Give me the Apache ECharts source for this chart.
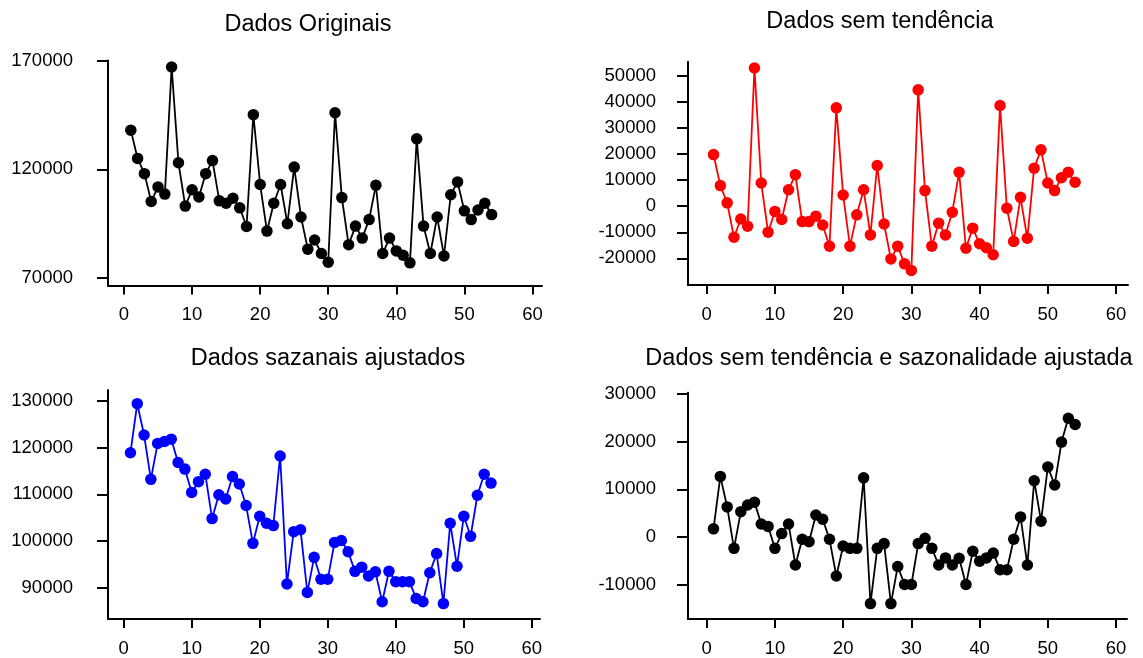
<!DOCTYPE html>
<html>
<head>
<meta charset="utf-8">
<title>Decomposição da série</title>
<script src="https://cdn.jsdelivr.net/npm/echarts@6/dist/echarts.min.js"></script>
<style>
  html, body { margin: 0; padding: 0; background: #ffffff; }
  #chart { width: 1143px; height: 658px; }
</style>
</head>
<body>
<div id="chart"></div>
<script>
// Período (observação) para cada ponto das séries
const periodo = [1,2,3,4,5,6,7,8,9,10,11,12,13,14,15,16,17,18,19,20,21,22,23,24,25,26,27,
  28,29,30,31,32,33,34,35,36,37,38,39,40,41,42,43,44,45,46,47,48,49,50,51,52,53,54];

// Dados originais
const dadosOriginais = [138000,125000,118000,105200,111900,108600,167000,123000,103100,110600,
  107300,118000,124000,105500,104400,106700,102300,93700,145100,113000,91600,104400,113000,95000,
  121000,98100,83300,87500,81300,77300,146000,107000,85300,93900,88400,96900,112700,81300,88400,
  82500,80500,77000,134000,93900,81300,98100,80200,108300,114200,100900,96900,101300,104400,99200];

// Dados sem tendência
const dadosSemTendencia = [19800,7900,1300,-11900,-4900,-7700,53000,8900,-10000,-2000,
  -5100,6300,12100,-5900,-5900,-3800,-7200,-15300,37700,4300,-15300,-3300,6300,-11000,15600,
  -6800,-20200,-15300,-22100,-24600,44600,6000,-15300,-6500,-11000,-2300,13000,-16100,-8400,
  -14400,-15900,-18600,38600,-800,-13500,3400,-12300,14600,21600,8900,6000,10900,13000,9200];

// Dados sazonais ajustados
const dadosSazonaisAjustados = [118900,129400,122700,113200,120900,121300,121800,116800,115400,
  110400,112700,114300,104800,109900,109000,113800,112200,107600,99500,105300,103800,103300,
  118200,90800,102000,102400,89000,96500,91800,91800,99700,100100,97700,93500,94400,92500,93400,
  87000,93500,91300,91300,91300,87700,87000,93200,97300,86600,103800,94600,105300,101000,109800,
  114300,112400];

// Dados sem tendência e sazonalidade ajustada
const dadosSemTendSazonal = [1700,12700,6300,-2400,5300,6700,7300,2700,2200,-2400,
  700,2700,-5900,-500,-1000,4600,3700,-500,-8200,-1900,-2400,-2400,12400,-14000,-2400,-1400,
  -14000,-6200,-10000,-10000,-1400,-300,-2400,-5900,-4400,-5900,-4500,-10000,-3000,-5100,
  -4400,-3400,-6900,-6900,-500,4200,-5900,11800,3300,14700,10900,19900,24900,23600];

// Títulos dos painéis
const titulos = ['Dados Originais', 'Dados sem tendência',
  'Dados sazanais ajustados', 'Dados sem tendência e sazonalidade ajustada'];

// Marcas dos eixos
const ticksX = [0, 10, 20, 30, 40, 50, 60];
const ticksY1 = [70000, 120000, 170000];
const ticksY2 = [-20000, -10000, 0, 10000, 20000, 30000, 40000, 50000];
const ticksY3 = [90000, 100000, 110000, 120000, 130000];
const ticksY4 = [-10000, 0, 10000, 20000, 30000];

const FONT = "'Liberation Sans', Arial, sans-serif";

const paineis = [
  { dados: dadosOriginais, cor: '#000000', ticksY: ticksY1,
    grid: { left: 108, top: 60.5, width: 434, height: 225 },
    x: [-2.35, 61.4], y: [66600, 170000], yMargin: 35,
    titulo: { x: 308, y: 13 } },
  { dados: dadosSemTendencia, cor: '#ff0000', ticksY: ticksY2,
    grid: { left: 688, top: 61.7, width: 440, height: 223.3 },
    x: [-2.74, 61.76], y: [-30200, 55400], yMargin: 32,
    titulo: { x: 880, y: 10 } },
  { dados: dadosSazonaisAjustados, cor: '#0000ff', ticksY: ticksY3,
    grid: { left: 108, top: 390, width: 432, height: 231.7 },
    x: [-2.3, 61.2], y: [83300, 132330], yMargin: 35,
    titulo: { x: 328, y: 347 } },
  { dados: dadosSemTendSazonal, cor: '#000000', ticksY: ticksY4,
    grid: { left: 688, top: 392.7, width: 439, height: 228 },
    x: [-2.74, 61.6], y: [-17230, 30270], yMargin: 32,
    titulo: { x: 889, y: 347 } }
];

const eixoLinha = { show: true, onZero: false, lineStyle: { color: '#000', width: 2 } };

const option = {
  animation: false,
  backgroundColor: '#ffffff',
  grid: paineis.map(p => Object.assign({ containLabel: false }, p.grid)),
  xAxis: paineis.map((p, i) => ({
    type: 'value', gridIndex: i, min: p.x[0], max: p.x[1],
    axisLine: eixoLinha,
    axisTick: { show: true, length: 9, customValues: ticksX,
      lineStyle: { color: '#000', width: 2 } },
    axisLabel: { customValues: ticksX, margin: 20, color: '#000',
      fontFamily: FONT, fontSize: 18.5, formatter: v => String(v) },
    splitLine: { show: false }
  })),
  yAxis: paineis.map((p, i) => ({
    type: 'value', gridIndex: i, min: p.y[0], max: p.y[1],
    axisLine: eixoLinha,
    axisTick: { show: true, length: 11, customValues: p.ticksY,
      lineStyle: { color: '#000', width: 2 } },
    axisLabel: { customValues: p.ticksY, margin: p.yMargin, color: '#000',
      fontFamily: FONT, fontSize: 18.5, formatter: v => String(v) },
    splitLine: { show: false }
  })),
  series: paineis.map((p, i) => ({
    type: 'line', xAxisIndex: i, yAxisIndex: i,
    data: periodo.map((x, k) => [x, p.dados[k]]),
    symbol: 'circle', symbolSize: 11.5, showSymbol: true,
    itemStyle: { color: p.cor },
    lineStyle: { color: p.cor, width: 1.8 },
    emphasis: { disabled: true }
  })),
  graphic: paineis.map((p, i) => ({
    type: 'text', x: p.titulo.x, y: p.titulo.y,
    style: { text: titulos[i], fill: '#000', fontFamily: FONT, fontSize: 23.5,
      textAlign: 'center', textVerticalAlign: 'top' }
  }))
};

const chart = echarts.init(document.getElementById('chart'), null, { renderer: 'canvas' });
chart.setOption(option);
</script>
</body>
</html>
